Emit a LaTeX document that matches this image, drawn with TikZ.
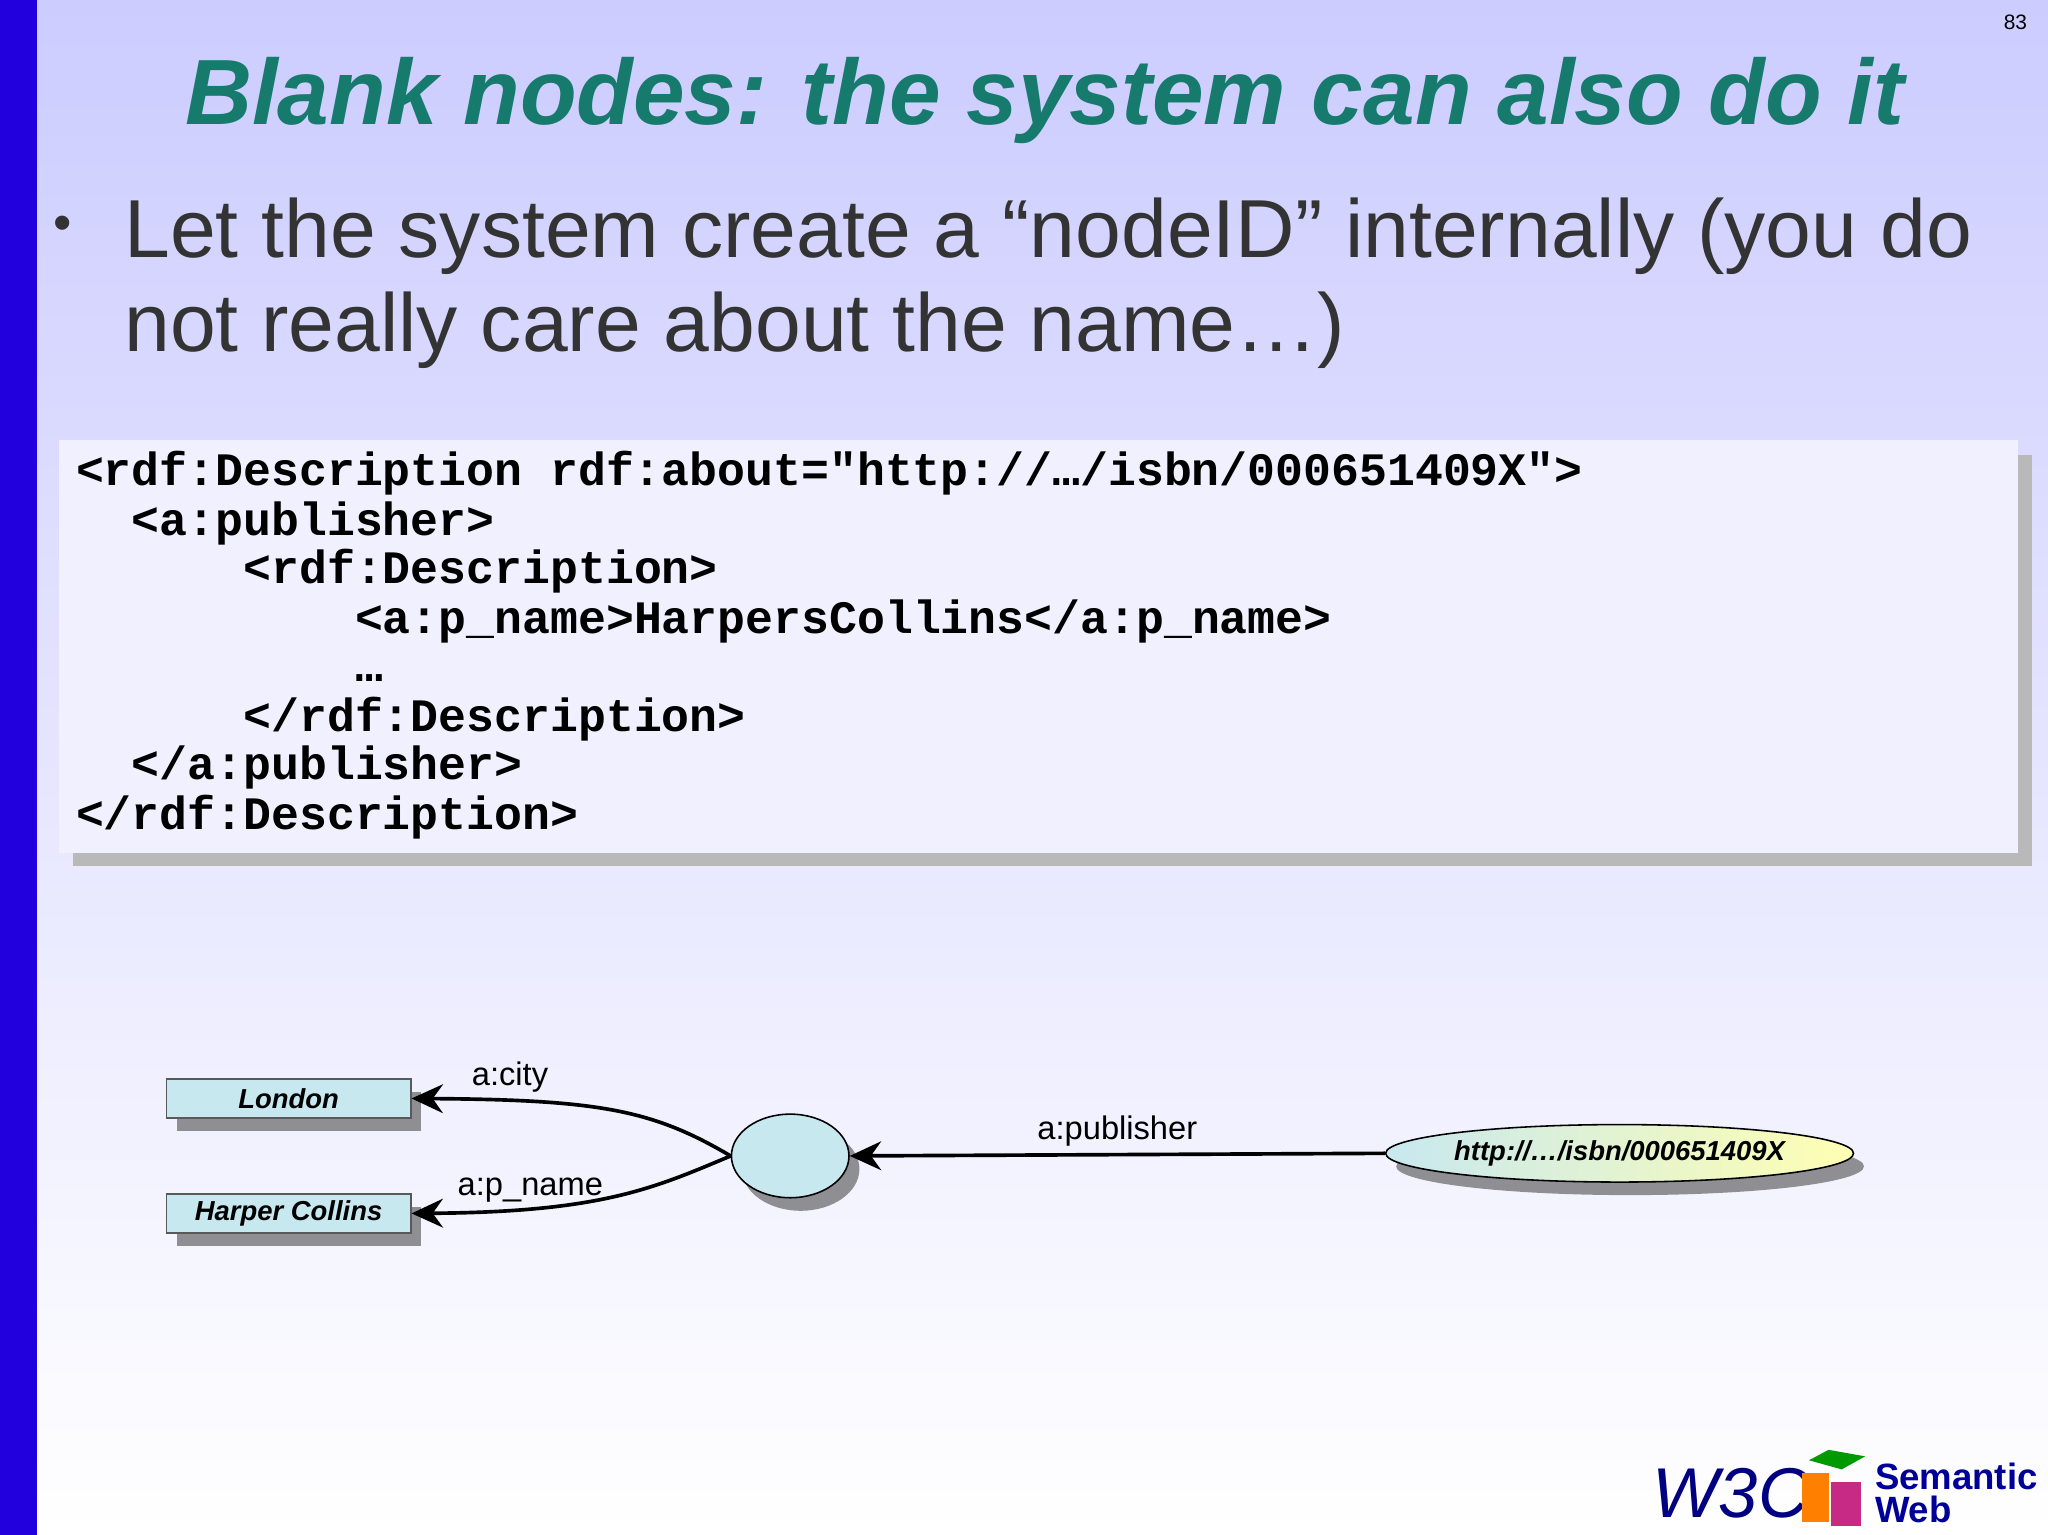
\documentclass[tikz,border=0pt]{standalone}
\usepackage{fontspec}
\setmainfont{Liberation Sans}
\newfontfamily\codefont{Liberation Mono}
\usetikzlibrary{shapes.geometric,arrows.meta,shadows}
\definecolor{titlec}{HTML}{167A6C}
\definecolor{barc}{HTML}{2200DD}
\definecolor{boxc}{HTML}{C8E8F0}
\definecolor{txtc}{HTML}{333333}
\tikzset{
 shd/.style={drop shadow={shadow xshift=8pt,shadow yshift=-10pt,opacity=0.6,fill=black!70}},
 lit/.style={draw=gray!70!black, line width=1.2pt, fill=boxc, minimum width=187pt, minimum height=30pt, font=\fontsize{21}{24}\selectfont\bfseries\itshape, inner sep=0pt, shd},
 lbl/.style={font=\fontsize{25}{26}\selectfont, inner sep=1pt},
 arr/.style={line width=2.8pt, -{Stealth[length=24pt,width=22pt]}},
 codeline/.style={anchor=base west, font=\codefont\bfseries\fontsize{35.6}{38}\selectfont, inner sep=0pt}
}
\begin{document}
\begin{tikzpicture}[x=1pt,y=-1pt]
\useasboundingbox (0,0) rectangle (1568,1175);
\shade[top color=blue!20!white, bottom color=white] (0,0) rectangle (1568,1175);
\fill[barc] (0,0) rectangle (28,1175);
\node[font=\fontsize{16}{18}\selectfont] (pg) at (1543,17) {83};
\node[font=\fontsize{71}{72}\selectfont\bfseries\itshape, text=titlec] (title) at (800,77) {Blank nodes: the system can also do it};
\node[font=\fontsize{40}{40}\selectfont, text=txtc] (bul) at (48,175) {\textbullet};
\node[anchor=base west, font=\fontsize{63}{72}\selectfont, text=txtc, inner sep=0pt] (l1) at (95,197) {Let the system create a “nodeID” internally (you do};
\node[anchor=base west, font=\fontsize{63}{72}\selectfont, text=txtc, inner sep=0pt] (l2) at (95,269) {not really care about the name…)};
\fill[gray!55] (56,348) rectangle (1556,663);
\fill[blue!6!white] (45,337) rectangle (1545,653);
\node[codeline] (c1) at (58,372) {<rdf:Description rdf:about="http://…/isbn/000651409X">};
\node[codeline] (c2) at (58,410) {\ \ <a:publisher>};
\node[codeline] (c3) at (58,447) {\ \ \ \ \ \ <rdf:Description>};
\node[codeline] (c4) at (58,485) {\ \ \ \ \ \ \ \ \ \ <a:p\_name>HarpersCollins</a:p\_name>};
\node[codeline] (c5) at (58,522) {\ \ \ \ \ \ \ \ \ \ …};
\node[codeline] (c6) at (58,560) {\ \ \ \ \ \ </rdf:Description>};
\node[codeline] (c7) at (58,597) {\ \ </a:publisher>};
\node[codeline] (c8) at (58,635) {</rdf:Description>};
\node[lit] (lon) at (221,841) {London};
\node[lit] (hc) at (221,929) {Harper Collins};
\node[ellipse, draw=black, line width=1.2pt, fill=boxc, minimum width=90pt, minimum height=64pt, shd] (bn) at (605,885) {};
\node[ellipse, draw=black, line width=1.2pt, left color=boxc, right color=yellow!30!white, minimum width=334pt, minimum height=44pt, font=\fontsize{21}{24}\selectfont\bfseries\itshape, inner sep=0pt, shd] (uri) at (1240,883) {http://…/isbn/000651409X};
\draw[arr] (uri.west) -- (bn.east) node[lbl, midway, above=4pt] (lp) {a:publisher};
\draw[arr] (bn.west) .. controls (500,850) and (460,842) .. (lon.east) node[lbl, pos=0.8, above=4pt] (lc) {a:city};
\draw[arr] (bn.west) .. controls (500,910) and (460,928) .. (hc.east) node[lbl, pos=0.75, above=2pt] (ln) {a:p\_name};
\node[font=\fontsize{54}{54}\selectfont\itshape, text=blue!50!black] (w3c) at (1325,1143) {W3C};
\fill[orange] (1380,1128) rectangle (1400,1165);
\fill[magenta!80!black] (1402,1135) rectangle (1425,1168);
\fill[green!60!black] (1385,1118) -- (1410,1125) -- (1428,1115) -- (1400,1110) -- cycle;
\node[anchor=west, align=left, font=\fontsize{28}{26}\selectfont\bfseries, text=blue!60!black] (sw) at (1432,1143) {Semantic\\Web};
\end{tikzpicture}
\end{document}
